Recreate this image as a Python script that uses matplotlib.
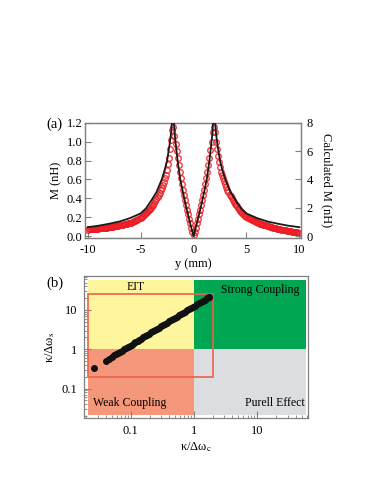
import numpy as np
import matplotlib.pyplot as plt
from matplotlib.patches import Rectangle

plt.rcParams['font.family'] = ['Liberation Serif', 'DejaVu Serif']
plt.rcParams['mathtext.fontset'] = 'stix'
plt.rcParams['font.size'] = 9
plt.rcParams['axes.unicode_minus'] = False

# (a) measured M (nH), sampled every 0.1 mm from -10 to 10
y_meas = np.linspace(-10, 10, 201)
M_meas = [0.070, 0.071, 0.072, 0.073, 0.074, 0.075, 0.076, 0.077, 0.078, 0.079,
          0.080, 0.081, 0.083, 0.084, 0.085, 0.087, 0.088, 0.090, 0.091, 0.093,
          0.094, 0.096, 0.097, 0.099, 0.101, 0.103, 0.105, 0.107, 0.109, 0.111,
          0.113, 0.115, 0.118, 0.120, 0.123, 0.125, 0.128, 0.131, 0.134, 0.137,
          0.140, 0.144, 0.148, 0.152, 0.158, 0.163, 0.168, 0.174, 0.180, 0.187,
          0.195, 0.202, 0.210, 0.220, 0.230, 0.240, 0.250, 0.262, 0.275, 0.287,
          0.300, 0.315, 0.330, 0.350, 0.370, 0.390, 0.410, 0.435, 0.460, 0.485,
          0.510, 0.540, 0.570, 0.610, 0.650, 0.700, 0.760, 0.830, 0.920, 1.020,
          1.120, 1.150, 1.060, 0.980, 0.900, 0.825, 0.750, 0.680, 0.610, 0.550,
          0.490, 0.435, 0.380, 0.330, 0.280, 0.230, 0.180, 0.135, 0.090, 0.045,
          0.010,
          0.045, 0.090, 0.135, 0.180, 0.230, 0.280, 0.330, 0.380, 0.435, 0.490,
          0.550, 0.610, 0.680, 0.750, 0.830, 0.910, 1.000, 1.100, 1.150, 1.100,
          1.000, 0.920, 0.850, 0.780, 0.730, 0.680, 0.645, 0.610, 0.580, 0.550,
          0.520, 0.490, 0.465, 0.440, 0.420, 0.400, 0.380, 0.360, 0.345, 0.330,
          0.315, 0.300, 0.285, 0.270, 0.258, 0.245, 0.235, 0.225, 0.215, 0.205,
          0.197, 0.190, 0.184, 0.178, 0.172, 0.167, 0.161, 0.156, 0.151, 0.146,
          0.141, 0.137, 0.132, 0.128, 0.124, 0.120, 0.116, 0.113, 0.109, 0.106,
          0.102, 0.099, 0.096, 0.093, 0.090, 0.087, 0.084, 0.081, 0.078, 0.076,
          0.073, 0.071, 0.068, 0.066, 0.064, 0.062, 0.060, 0.058, 0.056, 0.054,
          0.052, 0.050, 0.048, 0.047, 0.045, 0.043, 0.042, 0.040, 0.038, 0.036]

# (a) calculated M (nH), right axis
y_calc = [-10.0, -9.0, -8.0, -7.0, -6.0, -5.0, -4.5, -4.0, -3.5, -3.0, -2.75, -2.5,
          -2.25, -2.1, -1.95, -1.75, -1.5, -1.25, -1.0, -0.75, -0.5, -0.25, 0.0,
          0.25, 0.5, 0.75, 1.0, 1.25, 1.5, 1.75, 1.95, 2.1, 2.25, 2.5, 2.75, 3.0,
          3.5, 4.0, 4.5, 5.0, 6.0, 7.0, 8.0, 9.0, 10.0]
M_calc = [0.63, 0.73, 0.87, 1.03, 1.27, 1.60, 1.95, 2.50, 3.10, 4.00, 4.60, 5.30,
          6.50, 7.40, 9.00, 7.00, 5.30, 4.00, 3.10, 2.25, 1.45, 0.70, 0.00,
          0.70, 1.45, 2.25, 3.10, 4.00, 5.30, 7.00, 9.00, 7.40, 6.50, 5.30, 4.60, 4.00,
          3.10, 2.50, 1.95, 1.60, 1.27, 1.03, 0.87, 0.73, 0.63]

# (b) coupling points
k_c = [0.026, 0.040, 0.045, 0.050, 0.054, 0.058, 0.062, 0.067, 0.072, 0.077,
       0.083, 0.089, 0.096, 0.103, 0.111, 0.119, 0.128, 0.137, 0.147, 0.158,
       0.170, 0.183, 0.196, 0.211, 0.227, 0.244, 0.262, 0.281, 0.302, 0.325,
       0.349, 0.375, 0.403, 0.433, 0.465, 0.500, 0.537, 0.577, 0.620, 0.666,
       0.716, 0.769, 0.826, 0.888, 0.954, 1.025, 1.101, 1.183, 1.271, 1.366,
       1.468, 1.577, 1.694, 1.750]
k_s = [0.34, 0.51, 0.58, 0.645, 0.70, 0.75, 0.80, 0.86, 0.93, 0.99,
       1.07, 1.14, 1.23, 1.32, 1.42, 1.52, 1.64, 1.75, 1.88, 2.02,
       2.17, 2.33, 2.50, 2.69, 2.89, 3.11, 3.33, 3.57, 3.84, 4.13,
       4.43, 4.76, 5.11, 5.49, 5.89, 6.33, 6.80, 7.30, 7.84, 8.42,
       9.04, 9.71, 10.4, 11.2, 12.0, 12.9, 13.8, 14.8, 15.9, 17.1,
       18.4, 19.7, 21.2, 21.8]

regions = ['EIT', 'Strong Coupling', 'Weak Coupling', 'Purell Effect']
region_colors = ['#fff59c', '#00a651', '#f5977a', '#dcdde0']

fig = plt.figure(figsize=(3.82, 4.94), dpi=100)
spine_col = '#808080'

# ---- panel (a)
ax = fig.add_axes([0.2225, 0.5182, 0.5654, 0.2334])
ax2 = ax.twinx()
ax.plot(y_meas, M_meas, 'o', mfc='none', mec='#ec1c24', mew=1.0, ms=4.0, alpha=0.85, zorder=2)
ax2.plot(y_calc, M_calc, color='#1a1a1a', lw=1.3, zorder=3)
ax.set_xlim(-10.25, 10.15)
ax.set_ylim(-0.02, 1.2)
ax2.set_ylim(-0.133, 8)
ax.set_xticks([-10, -5, 0, 5, 10])
ax.set_yticks(np.arange(0, 1.21, 0.2))
ax.yaxis.set_major_formatter(plt.FormatStrFormatter('%.1f'))
ax2.set_yticks([0, 2, 4, 6, 8])
ax.set_xlabel('y (mm)', labelpad=2)
ax.set_ylabel('M (nH)', labelpad=3)
ax2.set_ylabel('Calculated M (nH)', rotation=270, labelpad=14)
for a in (ax, ax2):
    for s in a.spines.values():
        s.set_color(spine_col)
        s.set_linewidth(0.9)
    a.tick_params(direction='in', length=4, width=0.8, color=spine_col, pad=4)
ax.tick_params(axis='y', pad=2)
ax.tick_params(right=False, top=False)
ax2.set_zorder(ax.get_zorder() + 1)
ax2.patch.set_visible(False)
fig.text(0.122, 0.741, '(a)', fontsize=10.5)

# ---- panel (b)
bx = fig.add_axes([0.2199, 0.1538, 0.5864, 0.2874])
bx.set_xscale('log')
bx.set_yscale('log')
lo, hi = 0.021, 58
boxes = [(lo, 1, 1 - lo, hi - 1), (1, 1, hi - 1, hi - 1),
         (lo, lo, 1 - lo, 1 - lo), (1, lo, hi - 1, 1 - lo)]
for (x0, y0, w, h), c in zip(boxes, region_colors):
    bx.add_patch(Rectangle((x0, y0), w, h, facecolor=c, edgecolor='none', zorder=0))
bx.add_patch(Rectangle((0.021, 0.2), 2 - 0.021, 25 - 0.2, facecolor='none',
                       edgecolor='#f0604c', lw=1.2, zorder=3))
bx.plot(k_c, k_s, 'o', color='#111111', ms=4.0, zorder=4)
bx.text(0.12, 38, regions[0], ha='center', va='center', fontsize=8.5)
bx.text(11, 32, regions[1], ha='center', va='center', fontsize=8.5)
bx.text(0.095, 0.042, regions[2], ha='center', va='center', fontsize=8.5)
bx.text(18.6, 0.044, regions[3], ha='center', va='center', fontsize=8.5)
bx.set_xlim(0.0183, 63)
bx.set_ylim(0.0179, 73)
bx.set_xticks([0.1, 1, 10])
bx.set_xticklabels(['0.1', '1', '10'])
bx.set_yticks([0.1, 1, 10])
bx.set_yticklabels(['0.1', '1', '10'])
bx.set_xlabel(r'κ/Δω$_\mathrm{c}$', labelpad=2)
bx.set_ylabel(r'κ/Δω$_\mathrm{s}$', labelpad=3)
for s in bx.spines.values():
    s.set_color(spine_col)
    s.set_linewidth(0.9)
bx.tick_params(which='major', direction='in', length=5, width=0.8, color=spine_col, pad=5)
bx.tick_params(which='minor', direction='in', length=2.5, width=0.6, color=spine_col)
fig.text(0.122, 0.419, '(b)', fontsize=10.5)

fig.savefig('out.png', dpi=100)
